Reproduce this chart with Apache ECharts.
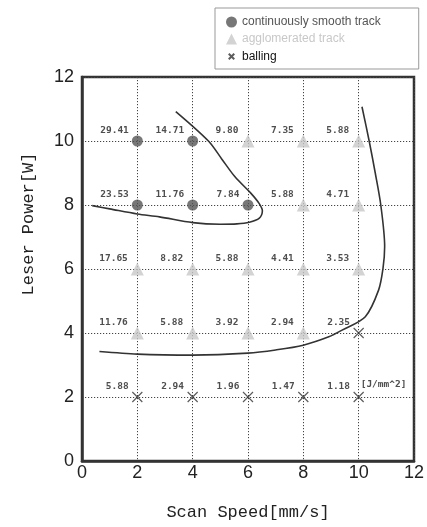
<!DOCTYPE html>
<html>
<head>
<meta charset="utf-8">
<script src="https://cdn.jsdelivr.net/npm/echarts@6/dist/echarts.min.js"></script>
<style>
html,body{margin:0;padding:0;background:#fff;}
#chart{width:427px;height:527px;}
</style>
</head>
<body>
<div id="chart"></div>
<script>
// Categories / axis ticks
const xTicks = [0, 2, 4, 6, 8, 10, 12];
const yTicks = [0, 2, 4, 6, 8, 10, 12];

// [scan speed, laser power, energy density label]
const smoothTrack = [[2,10,'29.41'],[4,10,'14.71'],[2,8,'23.53'],[4,8,'11.76'],[6,8,'7.84']];
const agglomeratedTrack = [[6,10,'9.80'],[8,10,'7.35'],[10,10,'5.88'],[8,8,'5.88'],[10,8,'4.71'],
  [2,6,'17.65'],[4,6,'8.82'],[6,6,'5.88'],[8,6,'4.41'],[10,6,'3.53'],
  [2,4,'11.76'],[4,4,'5.88'],[6,4,'3.92'],[8,4,'2.94']];
const ballingTrack = [[10,4,'2.35'],[2,2,'5.88'],[4,2,'2.94'],[6,2,'1.96'],[8,2,'1.47'],[10,2,'1.18']];
const unitNote = [[10,2,'[J/mm^2]']];

// Boundary curves [scan speed, laser power]
const boundaryLoop = [[0.37,7.98],[1,7.88],[2,7.72],[2.8,7.63],[4,7.45],[5,7.4],[5.6,7.41],[6.05,7.46],
  [6.4,7.58],[6.52,7.82],[6.4,8.05],[6.1,8.37],[5.53,8.88],[5.05,9.44],[4.57,10.0],[3.39,10.92]];
const boundaryRight = [[0.63,3.42],[2,3.34],[4,3.31],[6,3.37],[7,3.47],[8,3.62],[8.92,3.88],[9.4,4.09],
  [10.24,4.51],[10.72,5.34],[10.88,6.02],[10.94,6.7],[10.8,8.0],[10.6,9.0],[10.38,10.0],[10.12,11.07]];

const labelStyle = {
  show: true, position: 'left', distance: 3, offset: [0, -10],
  formatter: p => p.value[2],
  fontSize: 9.5, fontWeight: 'bold', fontFamily: 'DejaVu Sans Mono', color: '#222'
};

const chart = echarts.init(document.getElementById('chart'), null, {renderer: 'canvas'});
chart.setOption({
  backgroundColor: '#fff',
  animation: false,
  grid: {left: 82, right: 12, top: 77, bottom: 66, show: true, borderColor: '#333', borderWidth: 2.5, backgroundColor: 'transparent'},
  legend: {
    orient: 'vertical', left: 215, top: 8,
    padding: [8, 38, 6, 10], itemGap: 5, itemWidth: 11, itemHeight: 11,
    borderColor: '#999', borderWidth: 1, backgroundColor: '#fff',
    textStyle: {fontSize: 12, fontFamily: 'Liberation Sans'},
    data: [
      {name: 'continuously smooth track', textStyle: {color: '#555'}},
      {name: 'agglomerated track', textStyle: {color: '#c8c8c8'}},
      {name: 'balling', textStyle: {color: '#111'}, icon: 'path://M0,0M2.5,2.5L7.5,7.5M7.5,2.5L2.5,7.5M10,10'}
    ]
  },
  xAxis: {
    type: 'value', min: xTicks[0], max: xTicks[xTicks.length-1], interval: 2,
    name: 'Scan Speed[mm/s]', nameLocation: 'middle', nameGap: 43,
    nameTextStyle: {fontSize: 17, fontFamily: 'Liberation Mono', color: '#222'},
    axisLine: {lineStyle: {color: '#333', width: 2.5}},
    axisTick: {show: false},
    axisLabel: {fontSize: 18, fontFamily: 'Liberation Sans', color: '#222', margin: 3},
    splitLine: {show: true, lineStyle: {color: '#444', type: [1.2, 1.8], width: 1}}
  },
  yAxis: {
    type: 'value', min: yTicks[0], max: yTicks[yTicks.length-1], interval: 2,
    axisLine: {show: true, lineStyle: {color: '#333', width: 2.5}},
    axisTick: {show: false},
    axisLabel: {fontSize: 18, fontFamily: 'Liberation Sans', color: '#222', margin: 8},
    splitLine: {show: true, lineStyle: {color: '#444', type: [1.2, 1.8], width: 1}}
  },
  graphic: [{
    type: 'text', x: 28, y: 224, rotation: Math.PI / 2,
    style: {text: 'Leser Power[W]', fontSize: 17, fontFamily: 'Liberation Mono', fill: '#222', align: 'center', verticalAlign: 'middle'}
  }],
  series: [
    {type: 'line', data: boundaryLoop, smooth: 0.3, showSymbol: false, symbol: 'none',
     lineStyle: {color: '#333', width: 1.6}, z: 1, silent: true},
    {type: 'line', data: boundaryRight, smooth: 0.3, showSymbol: false, symbol: 'none',
     lineStyle: {color: '#333', width: 1.6}, z: 1, silent: true},
    {name: 'continuously smooth track', type: 'scatter', data: smoothTrack, symbol: 'circle', symbolSize: 11,
     itemStyle: {color: '#555'}, label: labelStyle, z: 3},
    {name: 'agglomerated track', type: 'scatter', data: agglomeratedTrack, symbol: 'triangle', symbolSize: 13,
     itemStyle: {color: '#c8c8c8'}, label: labelStyle, z: 3},
    {name: 'balling', type: 'scatter', data: ballingTrack, symbol: 'path://M0,0L10,10M10,0L0,10', symbolSize: 10,
     itemStyle: {color: 'transparent', borderColor: '#333', borderWidth: 1.2}, label: labelStyle, z: 3},
    {type: 'scatter', data: unitNote, symbolSize: 0, silent: true,
     label: Object.assign({}, labelStyle, {position: 'right', distance: 2, offset: [0, -12]}), z: 3}
  ]
});
</script>
</body>
</html>
